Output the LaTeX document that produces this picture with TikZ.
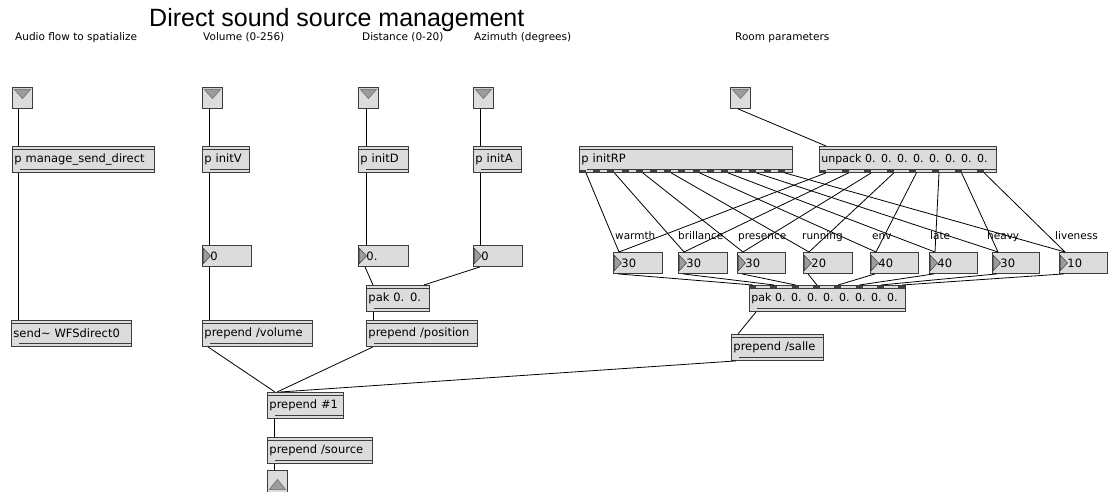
\documentclass[tikz,border=0pt]{standalone}
\usepackage{fontspec}
\setmainfont{DejaVu Sans}
\newfontfamily\titlefont{Liberation Sans}
\definecolor{boxfill}{HTML}{DCDCDC}
\definecolor{boxline}{HTML}{3C3C3C}
\definecolor{trifill}{HTML}{9C9C9C}
\tikzset{
  obj/.style={draw=boxline, fill=boxfill, line width=0.9pt, anchor=north west,
    minimum height=26pt, inner xsep=2pt, inner ysep=0pt, text width=#1, align=left,
    font=\fontsize{11.5}{13}\selectfont,
    path picture={
      \draw[boxline, line width=0.8pt]
        ([yshift=-3pt]path picture bounding box.north west) -- ([yshift=-3pt]path picture bounding box.north east)
        ([yshift=3pt]path picture bounding box.south west) -- ([yshift=3pt]path picture bounding box.south east);
      \fill (path picture bounding box.north west) rectangle ++(8pt,-3pt);
      \fill (path picture bounding box.south west) rectangle ++(8pt,3pt);
    }},
  num/.style={draw=boxline, fill=boxfill, line width=0.9pt, anchor=north west,
    minimum height=21pt, inner xsep=2pt, inner ysep=0pt, text width=#1, align=left,
    font=\fontsize{11.5}{13}\selectfont, execute at begin node={\hspace*{6pt}},
    path picture={
      \filldraw[fill=trifill, draw=boxline, line width=0.5pt]
        ([shift={(1pt,-3pt)}]path picture bounding box.north west)
        -- ([xshift=8pt]path picture bounding box.west)
        -- ([shift={(1pt,3pt)}]path picture bounding box.south west) -- cycle;
      \fill (path picture bounding box.south west) rectangle ++(7pt,2pt);
    }},
  inbox/.style={draw=boxline, fill=boxfill, line width=0.9pt, anchor=north west,
    minimum width=20pt, minimum height=21pt, inner sep=0pt,
    path picture={
      \filldraw[fill=trifill, draw=gray] ([shift={(2pt,-2pt)}]path picture bounding box.north west)
        -- ([shift={(-2pt,-2pt)}]path picture bounding box.north east)
        -- ([yshift=-11pt]path picture bounding box.north) -- cycle;
      \fill (path picture bounding box.south west) rectangle ++(7pt,2pt);
    }},
  outbox/.style={draw=boxline, fill=boxfill, line width=0.9pt, anchor=north west,
    minimum width=20pt, minimum height=24pt, inner sep=0pt,
    path picture={
      \filldraw[fill=trifill, draw=gray] ([shift={(2pt,5pt)}]path picture bounding box.south west)
        -- ([shift={(-2pt,5pt)}]path picture bounding box.south east)
        -- ([yshift=15pt]path picture bounding box.south) -- cycle;
      \fill (path picture bounding box.north west) rectangle ++(7pt,-2pt);
    }},
  lbl/.style={anchor=base west, inner sep=0pt, font=\fontsize{10.5}{12}\selectfont},
  wire/.style={line width=0.8pt}
}
\begin{document}
\begin{tikzpicture}[x=1pt,y=-1pt]
  \useasboundingbox[fill=white] (0,0) rectangle (1108,492);
  \node[anchor=west, inner sep=0pt, font=\titlefont\fontsize{25}{30}\selectfont] (title)
    at (149,20) {Direct sound source management};
  % inputs
  \node[lbl] (laudio) at (15,41) {Audio flow to spatialize};
  \node[lbl] (lvol) at (203,41) {Volume (0-256)};
  \node[lbl] (ldist) at (362,41) {Distance (0-20)};
  \node[lbl] (lazi) at (474,41) {Azimuth (degrees)};
  \node[lbl] (lroom) at (735,41) {Room parameters};
  \node[inbox] (inaudio) at (12,87) {};
  \node[inbox] (invol) at (202,87) {};
  \node[inbox] (indist) at (358,87) {};
  \node[inbox] (inazi) at (473,87) {};
  \node[inbox] (inroom) at (730,87) {};
  % first row of objects
  \node[obj=138pt] (sendp) at (12,146) {p manage\_send\_direct};
  \node[obj=43pt] (initV) at (202,146) {p initV};
  \node[obj=46pt] (initD) at (358,146) {p initD};
  \node[obj=44pt] (initA) at (473,146) {p initA};
  \node[obj=209pt] (initRP) at (579,146) {p initRP};
  \node[obj=173pt, font=\fontsize{11}{13}\selectfont] (unpack) at (819,146)
    {\mbox{unpack 0. 0. 0. 0. 0. 0. 0. 0.}};
  % source values
  \node[num=45pt] (numV) at (202,245) {0};
  \node[num=46pt] (numD) at (358,245) {0.};
  \node[num=45pt] (numA) at (473,245) {0};
  \node[obj=59pt] (pakDA) at (366,285) {pak 0. 0.};
  \node[obj=116pt] (sendw) at (11,320) {send\textasciitilde{} WFSdirect0};
  \node[obj=106pt] (prepV) at (202,320) {prepend /volume};
  \node[obj=107pt] (prepP) at (366,320) {prepend /position};
  \node[obj=72pt] (prepN) at (267,392) {prepend \#1};
  \node[obj=101pt] (prepS) at (267,437) {prepend /source};
  \node[outbox] (outsrc) at (267,470) {};
  % room values
  \node[num=45pt] (num0) at (613,252) {30};
  \node[num=45pt] (num1) at (678,252) {30};
  \node[num=44pt] (num2) at (737,252) {30};
  \node[num=45pt] (num3) at (803,252) {20};
  \node[num=44pt] (num4) at (870,252) {40};
  \node[num=44pt] (num5) at (929,252) {40};
  \node[num=43pt] (num6) at (992,252) {30};
  \node[num=44pt] (num7) at (1059,252) {10};
  \node[lbl] (lwarm) at (615,239) {warmth};
  \node[lbl] (lbril) at (678,239) {brillance};
  \node[lbl] (lpres) at (738,239) {presence};
  \node[lbl] (lrun) at (802,239) {running};
  \node[lbl] (lenv) at (872,239) {env};
  \node[lbl] (llate) at (930,239) {late};
  \node[lbl] (lheavy) at (987,239) {heavy};
  \node[lbl] (llive) at (1055,239) {liveness};
  \node[obj=152pt, font=\fontsize{11}{13}\selectfont] (pakR) at (749,285)
    {\mbox{pak 0. 0. 0. 0. 0. 0. 0. 0.}};
  \node[obj=88pt] (prepR) at (731,334) {prepend /salle};
  % extra inlets and outlets
  \fill ([xshift=-8pt]pakDA.north east) rectangle (pakDA.north east) ++(0pt,-3pt);
  \draw[black!75, line width=2pt, dash pattern=on 7pt off 7.2pt]
    ([yshift=1.5pt]initRP.south west) -- ([yshift=1.5pt]initRP.south east);
  \draw[black!75, line width=2pt, dash pattern=on 7pt off 15.6pt]
    ([yshift=1.5pt]unpack.south west) -- ([yshift=1.5pt]unpack.south east);
  \draw[black!75, line width=2pt, dash pattern=on 7pt off 14.3pt]
    ([yshift=-1.5pt]pakR.north west) -- ([yshift=-1.5pt]pakR.north east);
  \begin{scope}[wire]
    \draw ([xshift=6pt]inaudio.south west) to ([xshift=6pt]sendp.north west);
    \draw ([xshift=6pt]sendp.south west) to ([xshift=7pt]sendw.north west);
    \draw ([xshift=7pt]invol.south west) to ([xshift=7pt]initV.north west);
    \draw ([xshift=7pt]initV.south west) to ([xshift=7pt]numV.north west);
    \draw ([xshift=7pt]numV.south west) to ([xshift=7pt]prepV.north west);
    \draw ([xshift=8pt]indist.south west) to ([xshift=8pt]initD.north west);
    \draw ([xshift=8pt]initD.south west) to ([xshift=8pt]numD.north west);
    \draw ([xshift=7pt]numD.south west) to ([xshift=7pt]pakDA.north west);
    \draw ([xshift=7pt]inazi.south west) to ([xshift=7pt]initA.north west);
    \draw ([xshift=7pt]initA.south west) to ([xshift=7pt]numA.north west);
    \draw ([xshift=7pt]numA.south west) to ([xshift=-6pt]pakDA.north east);
    \draw ([xshift=7pt]pakDA.south west) to ([xshift=7pt]prepP.north west);
    \draw ([xshift=6pt]prepV.south west) to ([xshift=8pt]prepN.north west);
    \draw ([xshift=7pt]prepP.south west) to ([xshift=10pt]prepN.north west);
    \draw ([xshift=5pt]prepR.south west) to ([xshift=13pt]prepN.north west);
    \draw ([xshift=7pt]prepN.south west) to ([xshift=7pt]prepS.north west);
    \draw ([xshift=7pt]prepS.south west) to ([xshift=7pt]outsrc.north west);
    \draw ([xshift=8pt]inroom.south west) to ([xshift=7pt]unpack.north west);
    \foreach \i in {0,...,7}{
      \draw ([xshift={7pt+\i*28.4pt}]initRP.south west) to ([xshift=6pt]num\i.north west);
      \draw ([xshift={7pt+\i*22.6pt}]unpack.south west) to ([xshift=6pt]num\i.north west);
      \draw ([xshift=5pt]num\i.south west) to ([xshift={4pt+\i*21.3pt}]pakR.north west);
    }
    \draw ([xshift=7pt]pakR.south west) to ([xshift=7pt]prepR.north west);
  \end{scope}
\end{tikzpicture}
\end{document}
